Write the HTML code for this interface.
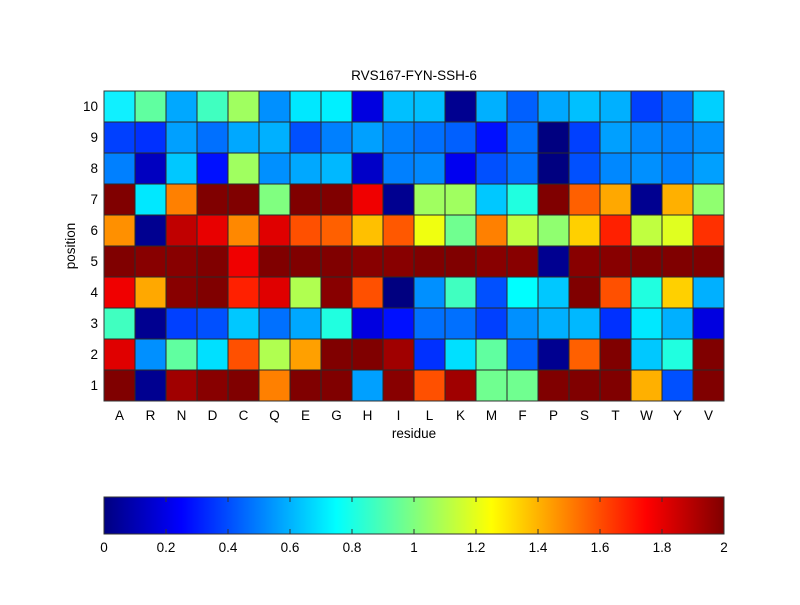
<!DOCTYPE html>
<html><head><meta charset="utf-8"><style>
body{margin:0;background:#fff;}
svg text{font-family:"Liberation Sans",Arial,sans-serif;font-size:13.5px;fill:#000;}
</style></head><body>
<svg id="s" width="800" height="600" xmlns="http://www.w3.org/2000/svg">
<defs><linearGradient id="jet" x1="0" x2="1" y1="0" y2="0">
<stop offset="0" stop-color="#000080"/><stop offset="0.125" stop-color="#0000ff"/>
<stop offset="0.375" stop-color="#00ffff"/><stop offset="0.625" stop-color="#ffff00"/>
<stop offset="0.875" stop-color="#ff0000"/><stop offset="1" stop-color="#800000"/></linearGradient></defs>
<rect width="800" height="600" fill="#fff"/>
<g id="cells"></g>
<rect x="104" y="91" width="620" height="310" fill="none" stroke="#333" stroke-width="1"/>
<text x="414" y="80" text-anchor="middle">RVS167-FYN-SSH-6</text>
<g text-anchor="end">
<text x="98" y="111">10</text><text x="98" y="142">9</text><text x="98" y="173">8</text><text x="98" y="204">7</text><text x="98" y="235">6</text>
<text x="98" y="266">5</text><text x="98" y="297">4</text><text x="98" y="328">3</text><text x="98" y="359">2</text><text x="98" y="390">1</text>
</g>
<g text-anchor="middle">
<text x="119.5" y="420">A</text><text x="150.5" y="420">R</text><text x="181.5" y="420">N</text><text x="212.5" y="420">D</text><text x="243.5" y="420">C</text>
<text x="274.5" y="420">Q</text><text x="305.5" y="420">E</text><text x="336.5" y="420">G</text><text x="367.5" y="420">H</text><text x="398.5" y="420">I</text>
<text x="429.5" y="420">L</text><text x="460.5" y="420">K</text><text x="491.5" y="420">M</text><text x="522.5" y="420">F</text><text x="553.5" y="420">P</text>
<text x="584.5" y="420">S</text><text x="615.5" y="420">T</text><text x="646.5" y="420">W</text><text x="677.5" y="420">Y</text><text x="708.5" y="420">V</text>
<text x="414" y="438">residue</text>
<text x="0" y="0" transform="translate(75,246) rotate(-90)">position</text>
</g>
<rect x="104" y="497" width="620" height="37" fill="url(#jet)" stroke="#333" stroke-width="1"/>
<g id="cbt" stroke="#333" stroke-width="1"></g>
<g text-anchor="middle">
<text x="104" y="552">0</text><text x="166" y="552">0.2</text><text x="228" y="552">0.4</text><text x="290" y="552">0.6</text><text x="352" y="552">0.8</text>
<text x="414" y="552">1</text><text x="476" y="552">1.2</text><text x="538" y="552">1.4</text><text x="600" y="552">1.6</text><text x="662" y="552">1.8</text><text x="724" y="552">2</text>
</g>
</svg>
<script>
var rows=[
"10f0ff 60ffa0 00a8ff 40ffc0 a0ff60 0090ff 00e8ff 00f0ff 0000e0 00c0ff 00c0ff 000090 00b0ff 0060ff 00a8ff 00c0ff 00b0ff 0040ff 0070ff 00d0ff",
"0040ff 0030ff 00a0ff 0070ff 00a8ff 00b0ff 0050ff 0080ff 00a0ff 0080ff 0070ff 0060ff 0010ff 0070ff 000080 0040ff 00a0ff 0088ff 0080ff 0090ff",
"0080ff 0000c0 00c8ff 0010ff a0ff60 0090ff 00a8ff 00b8ff 0000c8 0080ff 0088ff 0000f0 0050ff 0070ff 000080 0050ff 0088ff 0090ff 0080ff 00a0ff",
"800000 00e8ff ff8000 800000 800000 80ff80 800000 800000 f00000 000090 a0ff60 a0ff60 00c8ff 20ffe0 800000 ff6000 ffa800 000090 ffb000 90ff70",
"ff9000 000090 c00000 e80000 ff8800 e00000 ff5000 ff6000 ffc000 ff5800 f0ff10 70ff90 ff8000 c0ff40 90ff70 ffd000 ff2000 c0ff40 e0ff20 ff3000",
"800000 880000 880000 800000 f00000 800000 800000 800000 880000 880000 800000 800000 880000 880000 000090 880000 880000 800000 800000 800000",
"f00000 ffa800 880000 800000 ff2000 e00000 b0ff50 880000 ff5000 000080 0090ff 40ffc0 0050ff 00ffff 00c8ff 800000 ff5000 20ffe0 ffd000 00b0ff",
"40ffc0 000090 0040ff 0050ff 00c8ff 0070ff 00a8ff 20ffe0 0000e0 0010ff 0070ff 0070ff 0040ff 0090ff 00b0ff 00b8ff 0030ff 00e8ff 00b0ff 0000e0",
"e00000 0090ff 60ffa0 00e0ff ff5000 b0ff50 ffa000 800000 800000 a00000 0030ff 00e0ff 60ffa0 0060ff 000090 ff6000 800000 00c8ff 20ffe0 800000",
"800000 000090 a00000 880000 800000 ff8000 800000 800000 00a0ff 880000 ff5000 a00000 70ff90 70ff90 800000 800000 800000 ffb000 0050ff 800000"];
var g=document.getElementById('cells'),h='';
rows.forEach(function(r,i){r.split(' ').forEach(function(c,j){
h+='<rect x="'+(104+j*31)+'" y="'+(91+i*31)+'" width="31" height="31" fill="#'+c+'" stroke="#2a2a2a" stroke-width="1"/>';});});
g.innerHTML=h;
var t='';for(var k=1;k<10;k++){var x=104+k*62;t+='<line x1="'+x+'" y1="497" x2="'+x+'" y2="502"/><line x1="'+x+'" y1="529" x2="'+x+'" y2="534"/>';}
document.getElementById('cbt').innerHTML=t;
</script>
</body></html>
